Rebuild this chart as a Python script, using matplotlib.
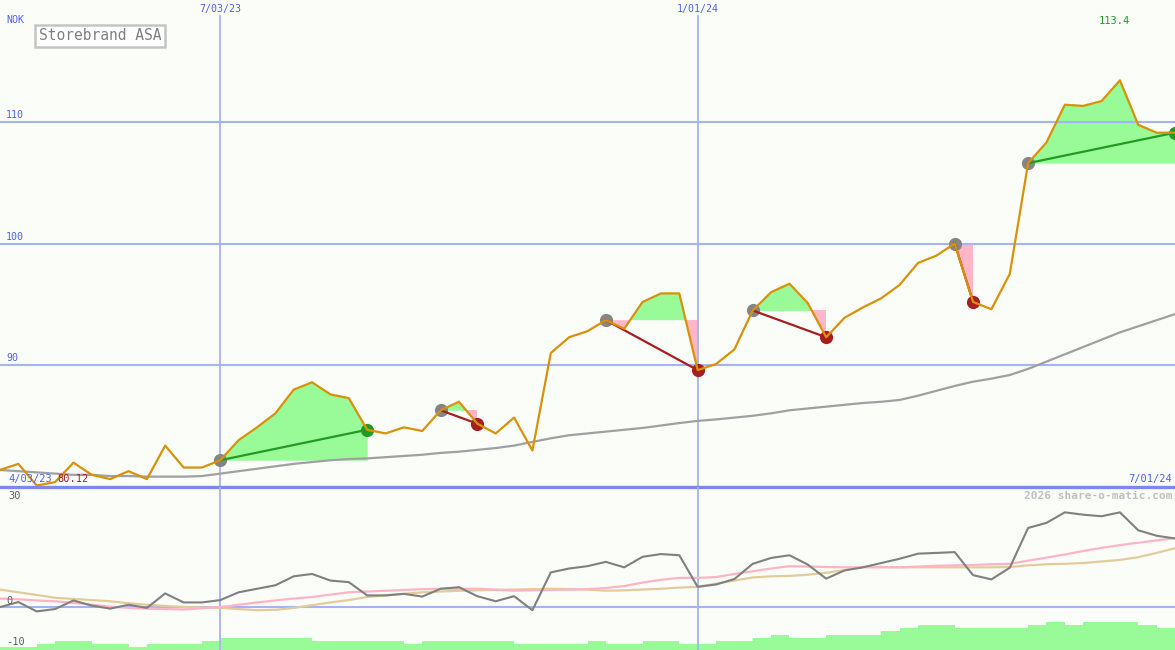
import numpy as np
import matplotlib
matplotlib.use('Agg')
import matplotlib.pyplot as plt

# weekly closing price, NOK (week 0 .. 64)
price = [81.4, 81.9, 80.12, 80.4, 82.0, 81.0, 80.65, 81.3, 80.65, 83.4,
         81.6, 81.6, 82.2, 83.85, 84.9, 86.05, 88.0, 88.6, 87.6, 87.3,
         84.7, 84.4, 84.9, 84.6, 86.3, 87.0, 85.2, 84.4, 85.7, 83.0,
         91.0, 92.3, 92.8, 93.7, 93.0, 95.2, 95.9, 95.9, 89.6, 90.1,
         91.3, 94.5, 96.0, 96.7, 95.1, 92.3, 93.9, 94.75, 95.5, 96.6,
         98.4, 99.0, 100.0, 95.2, 94.6, 97.5, 106.6, 108.3, 111.4, 111.3,
         111.7, 113.4, 109.75, 109.1, 109.1]

# long moving average
ma_long = [81.4, 81.3, 81.2, 81.1, 81.0, 81.0, 80.9, 80.9, 80.85, 80.85,
           80.85, 80.9, 81.1, 81.3, 81.5, 81.7, 81.9, 82.05, 82.2, 82.3,
           82.35, 82.45, 82.55, 82.65, 82.8, 82.9, 83.05, 83.2, 83.4, 83.7,
           84.0, 84.25, 84.4, 84.55, 84.7, 84.85, 85.05, 85.25, 85.43, 85.55,
           85.7, 85.85, 86.05, 86.3, 86.45, 86.6, 86.75, 86.9, 87.0, 87.15,
           87.5, 87.9, 88.3, 88.65, 88.9, 89.2, 89.7, 90.3, 90.9, 91.5,
           92.1, 92.7, 93.2, 93.7, 94.2]

# oscillator panel
osc = [0.0, 1.3, -1.1, -0.5, 1.7, 0.4, -0.4, 0.6, -0.2, 3.5,
       1.2, 1.2, 1.8, 3.8, 4.7, 5.6, 7.9, 8.5, 6.8, 6.4,
       3.0, 3.0, 3.4, 2.7, 4.7, 5.1, 2.8, 1.5, 2.8, -0.8,
       8.9, 9.9, 10.5, 11.6, 10.2, 12.9, 13.6, 13.3, 5.2, 5.8,
       7.2, 11.1, 12.6, 13.3, 10.9, 7.3, 9.4, 10.2, 11.3, 12.4,
       13.7, 13.9, 14.1, 8.2, 7.1, 10.1, 20.3, 21.6, 24.3, 23.7,
       23.3, 24.3, 19.7, 18.3, 17.6]
osc_fast = [2.2, 2.0, 1.7, 1.5, 1.1, 0.6, 0.1, -0.2, -0.4, -0.5,
            -0.6, -0.3, 0.0, 0.6, 1.2, 1.7, 2.2, 2.6, 3.2, 3.8,
            4.0, 4.2, 4.4, 4.6, 4.7, 4.7, 4.7, 4.5, 4.2, 4.3,
            4.4, 4.5, 4.6, 4.9, 5.4, 6.3, 7.0, 7.5, 7.5, 7.7,
            8.5, 9.2, 9.9, 10.5, 10.4, 10.3, 10.2, 10.2, 10.2, 10.2,
            10.4, 10.6, 10.7, 10.8, 11.0, 11.1, 11.9, 12.7, 13.5, 14.4,
            15.2, 15.9, 16.5, 17.1, 17.7]
osc_slow = [4.5, 3.8, 3.1, 2.4, 2.1, 1.8, 1.5, 1.0, 0.6, 0.3,
            0.05, -0.1, -0.2, -0.5, -0.8, -0.7, -0.2, 0.5, 1.2, 1.8,
            2.6, 3.0, 3.4, 3.8, 4.0, 4.2, 4.3, 4.4, 4.5, 4.6,
            4.7, 4.6, 4.5, 4.2, 4.3, 4.5, 4.7, 5.0, 5.2, 6.0,
            6.8, 7.6, 7.9, 8.0, 8.3, 8.8, 9.5, 10.3, 10.3, 10.2,
            10.2, 10.2, 10.2, 10.2, 10.2, 10.3, 10.7, 11.0, 11.1, 11.3,
            11.7, 12.1, 12.8, 13.9, 15.1]

# volume-like bars (one per week interval)
volume = [3, 3, 6, 9, 9, 6, 6, 3, 6, 6,
          6, 9, 12, 12, 12, 12, 12, 9, 9, 9,
          9, 9, 6, 9, 9, 9, 9, 9, 6, 6,
          6, 6, 9, 6, 6, 9, 9, 6, 6, 9,
          9, 12, 15, 12, 12, 15, 15, 15, 19, 22,
          25, 25, 22, 22, 22, 22, 25, 28, 25, 28,
          28, 28, 25, 22]

# trades: entry week, exit week
trade_entry = [12, 24, 33, 41, 52, 56]
trade_exit = [20, 26, 38, 45, 53, 64]

grid_weeks = [12, 38]
grid_labels = ['7/03/23', '1/01/24']
start_label = '4/03/23'
end_label = '7/01/24'
price_levels = [90, 100, 110]

price = np.array(price)
weeks = np.arange(len(price))

bg = '#fbfdf9'
blue_txt = '#4f5ff2'
grid_c = '#a6b3f2'
sep_c = '#7c88ee'
orange = '#d99108'
green_fill = '#98fb98'
pink_fill = '#ffb6c8'
win_c = '#249a24'
loss_c = '#a61e1e'
mono = 'DejaVu Sans Mono'

W, H, split = 1175, 650, 487
fig = plt.figure(figsize=(W / 100, H / 100), dpi=100, facecolor=bg)
ax1 = fig.add_axes([0, (H - split) / H, 1, split / H])
ax2 = fig.add_axes([0, 0, 1, (H - split) / H])
ax3 = ax2.twinx()
for ax in (ax1, ax2, ax3):
    ax.set_xlim(0, len(price) - 1)
    ax.set_xticks([])
    ax.set_yticks([])
    for s in ax.spines.values():
        s.set_visible(False)
ax1.set_facecolor(bg)
ax2.set_zorder(ax3.get_zorder() + 1)
ax2.set_facecolor('none')
ax3.set_facecolor(bg)

# --- top panel ---
ax1.set_ylim(80, 120)
for lv in price_levels:
    ax1.axhline(lv, color=grid_c, lw=1.5, zorder=2)
    ax1.text(6 / W, lv + 0.15, str(lv), transform=ax1.get_yaxis_transform(),
             color=blue_txt, fontsize=7.2, family=mono, ha='left', va='bottom')
for wk, lab in zip(grid_weeks, grid_labels):
    ax1.axvline(wk, ymin=0, ymax=1 - 16 / split, color=grid_c, lw=1.3, zorder=2)
    ax1.text(wk, 1 - 9 / split, lab, transform=ax1.get_xaxis_transform(),
             color=blue_txt, fontsize=7.2, family=mono, ha='center', va='center')

ax1.plot(weeks, ma_long, color='#a0a0a0', lw=1.6, zorder=3)

for a, b in zip(trade_entry, trade_exit):
    seg = weeks[a:b + 1]
    p = price[a:b + 1]
    base = price[a]
    ax1.fill_between(seg, base, p, where=p >= base, interpolate=True,
                     color=green_fill, lw=0, zorder=1)
    ax1.fill_between(seg, base, p, where=p < base, interpolate=True,
                     color=pink_fill, lw=0, zorder=1)
    c = win_c if price[b] >= price[a] else loss_c
    ax1.plot([a], [price[a]], 'o', color='#858585', ms=9.5, mew=0, zorder=4)
    ax1.plot([b], [price[b]], 'o', color=c, ms=9.5, mew=0, zorder=4)
    ax1.plot([a, b], [price[a], price[b]], color=c, lw=1.6, zorder=5)

ax1.plot(weeks, price, color=orange, lw=1.6, zorder=6)

ax1.axhline(80, color=sep_c, lw=2.4, zorder=7, clip_on=False)

fig.text(6 / W, 1 - 20 / H, 'NOK', color=blue_txt, fontsize=7.2, family=mono,
         ha='left', va='center')
fig.text(100 / W, 1 - 36 / H, 'Storebrand ASA', color='#808080', fontsize=10.5,
         family=mono, ha='center', va='center',
         bbox=dict(boxstyle='square,pad=0.25', fc='white', ec='#c4c4c4', lw=1.8))
imax = int(np.argmax(price))
ax1.text(imax - 0.3, 1 - 21 / split, f'{price.max():.1f}', transform=ax1.get_xaxis_transform(),
         color=win_c, fontsize=7.5, family=mono, ha='center', va='center')
fig.text(8 / W, 1 - 479 / H, start_label, color=blue_txt, fontsize=7.5,
         family=mono, ha='left', va='center')
fig.text(57 / W, 1 - 479 / H, f'{price.min():.2f}', color=loss_c, fontsize=7.5,
         family=mono, ha='left', va='center')
fig.text(1172 / W, 1 - 479 / H, end_label, color=blue_txt, fontsize=7.5,
         family=mono, ha='right', va='center')

# --- bottom panel ---
ax2.set_ylim(-11.0, 30.8)
ax3.set_ylim(0, H - split)
ax3.bar(weeks[:-1], volume, width=1.0, align='edge', color=green_fill, lw=0)
ax2.axhline(0, color=grid_c, lw=1.5, zorder=1)
for wk in grid_weeks:
    ax2.axvline(wk, color=grid_c, lw=1.3, zorder=1)
ax2.plot(weeks, osc_slow, color='#e2cc9c', lw=1.6, zorder=2)
ax2.plot(weeks, osc_fast, color='#ffb4c6', lw=1.6, zorder=3)
ax2.plot(weeks, osc, color='#808080', lw=1.5, zorder=4)

fig.text(8 / W, 1 - 496 / H, '30', color='#606060', fontsize=7.5, family=mono,
         ha='left', va='center')
fig.text(6 / W, 1 - 601 / H, '0', color='#606060', fontsize=7.5, family=mono,
         ha='left', va='center')
fig.text(6 / W, 1 - 642 / H, '-10', color='#606060', fontsize=7.5, family=mono,
         ha='left', va='center')
fig.text(1172 / W, 1 - 496 / H, '2026 share-o-matic.com', color='#c0c0c0',
         fontsize=8, family=mono, fontweight='bold', ha='right', va='center')

fig.savefig('out.png', dpi=100, facecolor=bg)
